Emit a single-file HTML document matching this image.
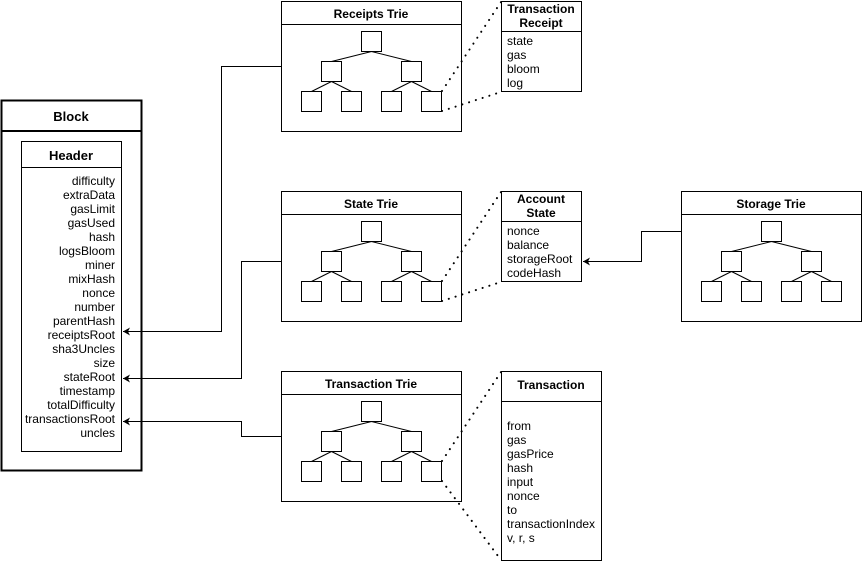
<!DOCTYPE html>
<html><head><meta charset="utf-8"><style>
html,body{margin:0;padding:0;background:#fff;width:862px;height:564px;overflow:hidden}
svg{display:block;font-family:"Liberation Sans",Arial,sans-serif}
.b{fill:#fff;stroke:#000;stroke-width:1}
.l{stroke:#000;stroke-width:1;fill:none}
.d{stroke:#000;stroke-width:2;fill:none;stroke-dasharray:0.1 7;stroke-linecap:round}
.t{font-weight:bold;font-size:12px;text-anchor:middle}
.f{font-size:12px}
</style></head><body>
<svg width="862" height="564" viewBox="0 0 862 564" xmlns="http://www.w3.org/2000/svg">
<defs>
<g id="tree">
<rect class="b" x="80" y="30" width="20" height="20"/>
<rect class="b" x="40" y="60" width="20" height="20"/>
<rect class="b" x="120" y="60" width="20" height="20"/>
<rect class="b" x="20" y="90" width="20" height="20"/>
<rect class="b" x="60" y="90" width="20" height="20"/>
<rect class="b" x="100" y="90" width="20" height="20"/>
<rect class="b" x="140" y="90" width="20" height="20"/>
<path class="l" d="M90 50L50 60M90 50L130 60M50 80L30 90M50 80L70 90M130 80L110 90M130 80L150 90"/>
</g>
<marker id="ar" markerWidth="8" markerHeight="8" refX="7" refY="4" orient="auto" markerUnits="userSpaceOnUse"><path d="M0 0L7 4L0 8L2 4Z" fill="#000"/></marker>
</defs>

<!-- Block -->
<rect x="1.5" y="100.5" width="140" height="370" fill="#fff" stroke="#000" stroke-width="2"/>
<line x1="1" y1="131" x2="141" y2="131" stroke="#000" stroke-width="2"/>
<text class="t" x="71" y="121" style="font-size:13px">Block</text>
<rect class="b" x="21.5" y="141.5" width="100" height="310"/>
<line class="l" x1="21" y1="167.5" x2="121" y2="167.5"/>
<text class="t" x="71" y="160" style="font-size:13px">Header</text>
<g class="f" text-anchor="end">
<text x="115" y="185">difficulty</text>
<text x="115" y="199">extraData</text>
<text x="115" y="213">gasLimit</text>
<text x="115" y="227">gasUsed</text>
<text x="115" y="241">hash</text>
<text x="115" y="255">logsBloom</text>
<text x="115" y="269">miner</text>
<text x="115" y="283">mixHash</text>
<text x="115" y="297">nonce</text>
<text x="115" y="311">number</text>
<text x="115" y="325">parentHash</text>
<text x="115" y="339">receiptsRoot</text>
<text x="115" y="353">sha3Uncles</text>
<text x="115" y="367">size</text>
<text x="115" y="381">stateRoot</text>
<text x="115" y="395">timestamp</text>
<text x="115" y="409">totalDifficulty</text>
<text x="115" y="423">transactionsRoot</text>
<text x="115" y="437">uncles</text>
</g>

<!-- connectors to header -->
<path class="l" d="M281 66.5H221.5V331.5H123" marker-end="url(#ar)"/>
<path class="l" d="M281 261.5H241.5V378.5H123" marker-end="url(#ar)"/>
<path class="l" d="M281 436.5H241.5V421.5H123" marker-end="url(#ar)"/>

<!-- Receipts Trie -->
<rect class="b" x="281.5" y="1.5" width="180" height="130"/>
<line class="l" x1="281" y1="24.5" x2="461" y2="24.5"/>
<text class="t" x="371" y="18">Receipts Trie</text>
<use href="#tree" transform="translate(281.5,1.5)"/>

<!-- State Trie -->
<rect class="b" x="281.5" y="191.5" width="180" height="130"/>
<line class="l" x1="281" y1="214.5" x2="461" y2="214.5"/>
<text class="t" x="371" y="208">State Trie</text>
<use href="#tree" transform="translate(281.5,191.5)"/>

<!-- Transaction Trie -->
<rect class="b" x="281.5" y="371.5" width="180" height="130"/>
<line class="l" x1="281" y1="394.5" x2="461" y2="394.5"/>
<text class="t" x="371" y="388">Transaction Trie</text>
<use href="#tree" transform="translate(281.5,371.5)"/>

<!-- Storage Trie -->
<rect class="b" x="681.5" y="191.5" width="180" height="130"/>
<line class="l" x1="681" y1="214.5" x2="861" y2="214.5"/>
<text class="t" x="771" y="208">Storage Trie</text>
<use href="#tree" transform="translate(681.5,191.5)"/>
<path class="l" d="M681 231.5H641.5V261.5H583" marker-end="url(#ar)"/>

<!-- Transaction Receipt -->
<rect class="b" x="501.5" y="1.5" width="80" height="90"/>
<line class="l" x1="501" y1="31.5" x2="581" y2="31.5"/>
<text class="t" x="541" y="13">Transaction</text>
<text class="t" x="541" y="27">Receipt</text>
<g class="f"><text x="507" y="45">state</text><text x="507" y="59">gas</text><text x="507" y="73">bloom</text><text x="507" y="87">log</text></g>
<path class="d" d="M442 91L501 2M442 111L501 92"/>

<!-- Account State -->
<rect class="b" x="501.5" y="191.5" width="80" height="90"/>
<line class="l" x1="501" y1="221.5" x2="581" y2="221.5"/>
<text class="t" x="541" y="203">Account</text>
<text class="t" x="541" y="217">State</text>
<g class="f"><text x="507" y="235">nonce</text><text x="507" y="249">balance</text><text x="507" y="263">storageRoot</text><text x="507" y="277">codeHash</text></g>
<path class="d" d="M442 281L501 192M442 301L501 282"/>

<!-- Transaction -->
<rect class="b" x="501.5" y="371.5" width="100" height="189"/>
<line class="l" x1="501" y1="401.5" x2="601" y2="401.5"/>
<text class="t" x="551" y="389">Transaction</text>
<g class="f">
<text x="507" y="430">from</text><text x="507" y="444">gas</text><text x="507" y="458">gasPrice</text>
<text x="507" y="472">hash</text><text x="507" y="486">input</text><text x="507" y="500">nonce</text>
<text x="507" y="514">to</text><text x="507" y="528">transactionIndex</text><text x="507" y="542">v, r, s</text>
</g>
<path class="d" d="M442 461L501 372M442 481L501 560"/>
</svg>
</body></html>
